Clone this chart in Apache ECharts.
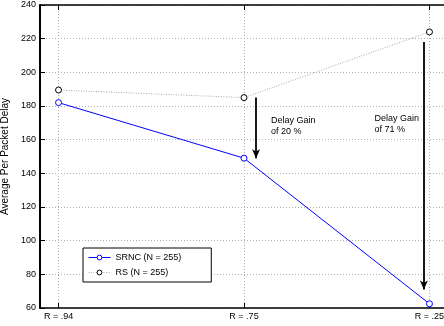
<!DOCTYPE html>
<html><head><meta charset="utf-8">
<script src="https://cdn.jsdelivr.net/npm/echarts@6/dist/echarts.min.js"></script>
<style>html,body{margin:0;padding:0;background:#fff}#c{width:444px;height:326px}</style>
</head><body><div id="c"></div>
<script>
const categories = ['R = .94', 'R = .75', 'R = .25'];
const xPositions = [1, 2, 3];
const srnc = [182, 149, 62.5];
const rs = [189.5, 185, 224];
const yTicks = [60, 80, 100, 120, 140, 160, 180, 200, 220, 240];
const seriesNames = ['SRNC (N = 255)', 'RS (N = 255)'];
const gain1 = {x: 2.065, from: 185, to: 149, label: 'Delay Gain\nof 20 %', lx: 2.145, ly: 174.5};
const gain2 = {x: 2.97, from: 218, to: 71, label: 'Delay Gain\nof 71 %', lx: 2.704, ly: 176};

const font = 'Liberation Sans, Arial, Helvetica, sans-serif';
const blue = '#0000ff', grey = '#a8a8a8';
const chart = echarts.init(document.getElementById('c'));
const pair = (xs, ys) => xs.map((x, i) => [x, ys[i]]);
const xAxisCommon = {
  type: 'value', min: 0.9, max: 3.1,
  axisLine: {show: true, onZero: false, lineStyle: {color: '#000', width: 1.5}},
  axisTick: {show: true, inside: true, length: 5, customValues: xPositions, lineStyle: {color: '#000', width: 1}},
  splitLine: {show: false}
};
chart.setOption({
  animation: false,
  textStyle: {fontFamily: font},
  grid: {left: 40, right: -4, top: 5, bottom: 18, containLabel: false, outerBoundsMode: 'none'},
  xAxis: [
    Object.assign({}, xAxisCommon, {
      position: 'bottom',
      axisLabel: {show: true, customValues: xPositions, color: '#000', fontSize: 9, fontFamily: font, margin: 4,
        formatter: v => categories[xPositions.indexOf(Math.round(v))] || ''},
      splitLine: {show: true, lineStyle: {color: '#b0b0b0', type: [1, 2], width: 1}}
    }),
    Object.assign({}, xAxisCommon, {position: 'top', axisLabel: {show: false}})
  ],
  yAxis: [{
    type: 'value', min: 60, max: 240, interval: 20,
    name: 'Average Per Packet Delay', nameLocation: 'middle', nameGap: 25,
    nameTextStyle: {color: '#000', fontSize: 10, fontFamily: font},
    axisLine: {show: true, lineStyle: {color: '#000', width: 2}},
    axisTick: {show: true, inside: true, length: 5, lineStyle: {color: '#000'}},
    axisLabel: {color: '#000', fontSize: 9, fontFamily: font, margin: 4},
    splitLine: {show: true, lineStyle: {color: '#b0b0b0', type: [1, 2], width: 1}}
  }],
  legend: {
    left: 83, top: 248, orient: 'vertical', itemGap: 6,
    backgroundColor: '#fff', borderColor: '#000', borderWidth: 1,
    padding: [5, 30, 5, 5], itemWidth: 22, itemHeight: 6,
    textStyle: {color: '#000', fontSize: 9, fontFamily: font},
    data: [
      {name: seriesNames[0], itemStyle: {color: '#fff', borderColor: blue, borderWidth: 1}, lineStyle: {color: blue, width: 1, type: 'solid'}},
      {name: seriesNames[1], itemStyle: {color: '#fff', borderColor: '#000', borderWidth: 1}, lineStyle: {color: grey, width: 1, type: [1, 1.5]}}
    ]
  },
  series: [
    {
      name: seriesNames[0], type: 'line', data: pair(xPositions, srnc), color: blue,
      symbol: 'circle', symbolSize: 6,
      lineStyle: {color: blue, width: 1}, itemStyle: {color: '#fff', borderColor: blue, borderWidth: 1},
      z: 3,
      markLine: {
        silent: true, symbol: ['none', 'arrow'], symbolSize: [6, 9],
        lineStyle: {color: '#000', width: 1.8, type: 'solid'}, label: {show: false},
        data: [
          [{coord: [gain1.x, gain1.from]}, {coord: [gain1.x, gain1.to]}],
          [{coord: [gain2.x, gain2.from]}, {coord: [gain2.x, gain2.to]}]
        ]
      },
      markPoint: {
        silent: true, symbol: 'circle', symbolSize: 0,
        label: {show: true, position: 'right', distance: 0, align: 'left', verticalAlign: 'top', color: '#000', fontSize: 9, fontFamily: font, lineHeight: 11, formatter: p => p.name},
        data: [
          {name: gain1.label, coord: [gain1.lx, gain1.ly]},
          {name: gain2.label, coord: [gain2.lx, gain2.ly]}
        ]
      }
    },
    {
      name: seriesNames[1], type: 'line', data: pair(xPositions, rs), color: '#000',
      symbol: 'circle', symbolSize: 6,
      lineStyle: {color: grey, width: 1, type: [1, 1.5]}, itemStyle: {color: '#fff', borderColor: '#000', borderWidth: 1},
      z: 3
    }
  ]
});
</script></body></html>
